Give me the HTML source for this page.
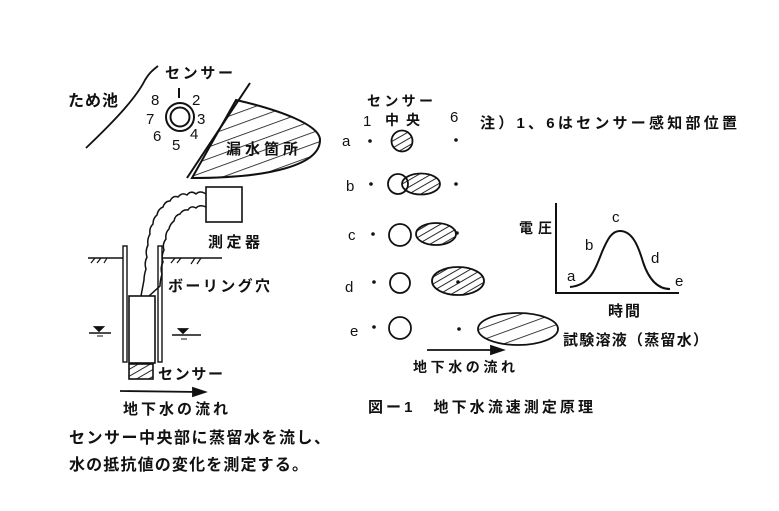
<!DOCTYPE html>
<html><head><meta charset="utf-8"><style>
html,body{margin:0;padding:0;background:#fff;}
svg{display:block;}
text{font-family:"Liberation Sans","Noto Sans CJK JP",sans-serif;fill:#111;font-weight:bold;}
.s{font-weight:normal;}
</style></head><body>
<svg width="779" height="511" viewBox="0 0 779 511" xmlns="http://www.w3.org/2000/svg">
<defs>
<pattern id="h" patternUnits="userSpaceOnUse" width="6" height="6" patternTransform="rotate(-30)">
<line x1="0" y1="0" x2="6" y2="0" stroke="#111" stroke-width="1.8"/>
</pattern>
<pattern id="h2" patternUnits="userSpaceOnUse" width="11" height="11" patternTransform="rotate(-20)">
<line x1="0" y1="0" x2="11" y2="0" stroke="#111" stroke-width="1.6"/>
</pattern>
</defs>
<g stroke="#111" fill="none" stroke-width="1.8">
<path d="M86,148 C110,125 135,100 145,80 C150,72 153,70 158,66"/>
<circle cx="180" cy="117" r="14" stroke-width="2"/>
<circle cx="180" cy="117" r="9.5" stroke-width="2"/>
<line x1="179" y1="88" x2="179" y2="98" stroke-width="2"/>
<line x1="250" y1="83" x2="187" y2="178" stroke-width="2"/>
<path d="M236,100 C280,110 320,125 320,140 C320,165 270,178 192,178 L236,100 Z" fill="url(#h2)" stroke-width="2"/>
<rect x="206" y="187" width="36" height="35" stroke-width="1.6"/>
<path d="M206,194 q-6,-4 -10,0 q-5,-4 -9,1 q-5,-3 -9,2 q-5,-2 -8,4 q-5,0 -7,6 q-5,2 -6,8 q-4,3 -4,9 q-4,4 -3,10 q-3,5 -2,11 q-3,6 -1,12 q-3,6 -1,12 q-2,6 -2,11 L141,296" stroke-width="1.5"/>
<path d="M206,207 q-6,-3 -10,1 q-5,-3 -8,2 q-5,-1 -8,4 q-5,1 -6,7 q-4,3 -5,8 q-4,4 -3,10 q-4,5 -2,11 q-3,6 -1,12 q-3,6 -1,12 q-2,7 -2,12 L149,296" stroke-width="1.5"/>
<line x1="88" y1="258" x2="123" y2="258" stroke-width="1.4"/>
<line x1="162" y1="258" x2="222" y2="258" stroke-width="1.4"/>
<path d="M95,258 l-4,5 M101,258 l-4,5 M107,258 l-3,5 M175,258 l-4,5 M181,258 l-4,5 M195,258 l-4,6 M201,258 l-4,6" stroke-width="1.2"/>
<rect x="123" y="246" width="4" height="116" stroke-width="1.4"/>
<rect x="158" y="246" width="4" height="116" stroke-width="1.4"/>
<rect x="129" y="296" width="26" height="67" stroke-width="1.6"/>
<rect x="129" y="364" width="24" height="15" fill="url(#h)" stroke-width="1.6"/>
<line x1="89" y1="333" x2="111" y2="333" stroke-width="1.4"/>
<path d="M95,327 h8 l-4,4 z" fill="#111"/>
<line x1="97" y1="336" x2="103" y2="336" stroke-width="1"/>
<line x1="172" y1="335" x2="201" y2="335" stroke-width="1.4"/>
<path d="M179,329 h8 l-4,4 z" fill="#111"/>
<line x1="181" y1="339" x2="187" y2="339" stroke-width="1"/>
<line x1="120" y1="391" x2="200" y2="392" stroke-width="1.8"/>
<path d="M205,392 l-12,-4 l0,8 z" fill="#111"/>
<circle cx="402" cy="141" r="10.5" fill="url(#h)" stroke-width="1.8"/>
<circle cx="398" cy="184" r="10"/>
<ellipse cx="421" cy="184" rx="19" ry="10.5" fill="url(#h)"/>
<circle cx="400" cy="235" r="11"/>
<ellipse cx="436" cy="234" rx="20" ry="11" fill="url(#h)"/>
<circle cx="400" cy="283" r="10"/>
<ellipse cx="458" cy="281" rx="26" ry="14" fill="url(#h)"/>
<circle cx="400" cy="328" r="11"/>
<ellipse cx="518" cy="329" rx="40" ry="16" fill="url(#h2)"/>
<line x1="427" y1="350" x2="495" y2="350" stroke-width="1.8"/>
<path d="M503,350 l-12,-4 l0,8 z" fill="#111"/>
<polyline points="556,203 556,293 679,293" stroke-width="2"/>
<path d="M570,287 C590,285 595,270 602,252 C608,238 612,231 620,231 C632,231 638,245 643,262 C650,283 660,289 670,289" stroke-width="2"/>
</g>
<g fill="#111">
<circle cx="370" cy="141" r="1.8"/><circle cx="456" cy="140" r="1.8"/>
<circle cx="371" cy="184" r="1.8"/><circle cx="456" cy="184" r="1.8"/>
<circle cx="373" cy="234" r="1.8"/><circle cx="457" cy="233" r="1.8"/>
<circle cx="374" cy="282" r="1.8"/><circle cx="458" cy="282" r="1.8"/>
<circle cx="374" cy="327" r="1.8"/><circle cx="459" cy="329" r="1.8"/>
</g>
<text x="68" y="106" font-size="16" textLength="50" lengthAdjust="spacing">ため池</text>
<text x="165" y="78" font-size="15" textLength="68" lengthAdjust="spacing">センサー</text>
<text class="s" x="151" y="105" font-size="15">8</text>
<text class="s" x="192" y="105" font-size="15">2</text>
<text class="s" x="146" y="124" font-size="15">7</text>
<text class="s" x="197" y="124" font-size="15">3</text>
<text class="s" x="153" y="141" font-size="15">6</text>
<text class="s" x="190" y="139" font-size="15">4</text>
<text class="s" x="172" y="150" font-size="15">5</text>
<text x="226" y="154" font-size="15" textLength="72" lengthAdjust="spacing">漏水箇所</text>
<text x="208" y="247" font-size="15" textLength="52" lengthAdjust="spacing">測定器</text>
<text x="168" y="291" font-size="15" textLength="102" lengthAdjust="spacing">ボーリング穴</text>
<text x="158" y="379" font-size="15" textLength="65" lengthAdjust="spacing">センサー</text>
<text x="123" y="414" font-size="15" textLength="105" lengthAdjust="spacing">地下水の流れ</text>
<text x="69" y="443" font-size="16" textLength="261" lengthAdjust="spacing">センサー中央部に蒸留水を流し、</text>
<text x="69" y="470" font-size="16" textLength="239" lengthAdjust="spacing">水の抵抗値の変化を測定する。</text>
<text x="367" y="106" font-size="14" textLength="66" lengthAdjust="spacing">センサー</text>
<text class="s" x="363" y="126" font-size="15">1</text>
<text x="385" y="125" font-size="14" textLength="35" lengthAdjust="spacing">中央</text>
<text class="s" x="450" y="122" font-size="15">6</text>
<text x="480" y="128" font-size="15" textLength="257" lengthAdjust="spacing">注）1、6はセンサー感知部位置</text>
<text class="s" x="342" y="146" font-size="15">a</text>
<text class="s" x="346" y="191" font-size="15">b</text>
<text class="s" x="348" y="240" font-size="15">c</text>
<text class="s" x="345" y="292" font-size="15">d</text>
<text class="s" x="350" y="336" font-size="15">e</text>
<text x="519" y="233" font-size="14" textLength="33" lengthAdjust="spacing">電圧</text>
<text x="608" y="316" font-size="15" textLength="32" lengthAdjust="spacing">時間</text>
<text class="s" x="567" y="281" font-size="15">a</text>
<text class="s" x="585" y="250" font-size="15">b</text>
<text class="s" x="612" y="222" font-size="15">c</text>
<text class="s" x="651" y="263" font-size="15">d</text>
<text class="s" x="675" y="286" font-size="15">e</text>
<text x="563" y="345" font-size="15" textLength="145" lengthAdjust="spacing">試験溶液（蒸留水）</text>
<text x="413" y="372" font-size="14" textLength="102" lengthAdjust="spacing">地下水の流れ</text>
<text x="368" y="412" font-size="15" textLength="225" lengthAdjust="spacing">図ー1　地下水流速測定原理</text>
</svg>
</body></html>
